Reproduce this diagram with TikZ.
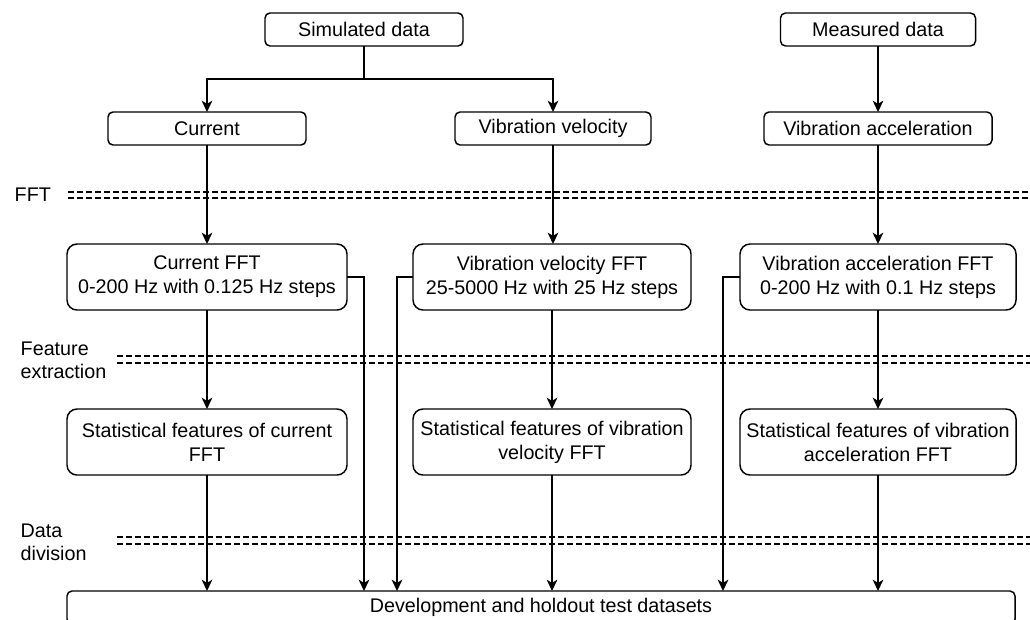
\documentclass[tikz,border=0pt]{standalone}
\usepackage{fontspec}
\setmainfont{Liberation Sans}
\usetikzlibrary{arrows.meta,%
                positioning,%
                calc}
\tikzset{stepbox/.style={
			  rectangle,
			  rounded corners = 3.75pt,
			  minimum height  = 24.75pt,
			  inner sep       = 0pt,
			  outer sep       = 0pt,
			  line width      = 1.1pt,
			  draw            = black,
			  fill            = white,
			  align           = center,
			  font            = \fontsize{14.8}{18}\selectfont
			}}
\tikzset{bigbox/.style={
			  stepbox,
			  rounded corners = 7.5pt,
			  minimum height  = 49.5pt
			}}
\tikzset{lanelabel/.style={
			  anchor          = west,
			  inner sep       = 0pt,
			  align           = left,
			  font            = \fontsize{14.8}{17.3}\selectfont
			}}
\tikzset{separator/.style={
			  line width      = 1pt,
			  dash pattern    = on 4.5pt off 2.25pt
			}}
\begin{document}
\begin{tikzpicture}[x=0.75pt, y=-0.75pt, line width=1.1pt,
  >={Stealth[length=8.5pt,width=8pt,inset=2.4pt]}]
    \useasboundingbox (0,0) rectangle (1030,619);

    % lanes
    \node (lbl_fft)   [lanelabel] at (14,195)  {FFT};
    \node (lbl_feat)  [lanelabel] at (20,360)  {Feature\\extraction};
    \node (lbl_data)  [lanelabel] at (20,542)  {Data\\division};

    \draw [separator] (68,192)  -- (1030,192);
    \draw [separator] (68,198)  -- (1030,198);
    \draw [separator] (117,356) -- (1030,356);
    \draw [separator] (117,363) -- (1030,363);
    \draw [separator] (117,537) -- (1030,537);
    \draw [separator] (117,544) -- (1030,544);

    \node (simulated) [stepbox, minimum width=148.5pt] at (364,29.5)   {Simulated data};
    \node (measured)  [stepbox, minimum width=146.25pt] at (878,29.5)  {Measured data};
    \node (current)   [stepbox, minimum width=148.5pt] at (207,128.5)  {Current};
    \node (velocity)  [stepbox, minimum width=147pt]   at (553,128.5)  {Vibration velocity};
    \node (accel)     [stepbox, minimum width=171pt]   at (878,128.5)  {Vibration acceleration};

    \node (cur_fft)   [bigbox, minimum width=210pt]    at (207,277)    {Current FFT\\0-200 Hz with 0.125 Hz steps};
    \node (vel_fft)   [bigbox, minimum width=208.5pt]  at (552,277)    {Vibration velocity FFT\\25-5000 Hz with 25 Hz steps};
    \node (acc_fft)   [bigbox, minimum width=207pt]    at (878,277)    {Vibration acceleration FFT\\0-200 Hz with 0.1 Hz steps};

    \node (cur_stat)  [bigbox, minimum width=210pt]    at (207,442)    {Statistical features of current\\FFT};
    \node (vel_stat)  [bigbox, minimum width=208.5pt]  at (552,442)    {Statistical features of vibration\\velocity FFT};
    \node (acc_stat)  [bigbox, minimum width=207pt]    at (878,442)    {Statistical features of vibration\\acceleration FFT};

    \node (datasets)  [stepbox, minimum width=711pt]   at (541,607.5)  {Development and holdout test datasets};

    \coordinate (split) at (364,79);
    \draw      (simulated) to (split);
    \draw [->] (split)     -| (current.north);
    \draw [->] (split)     -| (velocity.north);
    \draw [->] (measured)  to (accel);

    \draw [->] (current)   to (cur_fft);
    \draw [->] (velocity)  to (velocity |- vel_fft.north);
    \draw [->] (accel)     to (acc_fft);

    \draw [->] (cur_fft)   to (cur_stat);
    \draw [->] (vel_fft)   to (vel_stat);
    \draw [->] (acc_fft)   to (acc_stat);

    \draw [->] (cur_stat)  to (cur_stat |- datasets.north);
    \draw [->] (vel_stat)  to (vel_stat |- datasets.north);
    \draw [->] (acc_stat)  to (acc_stat |- datasets.north);
%
    \draw [->] (cur_fft.east) -- ++(17,0) coordinate (c1) -- (c1 |- datasets.north);
    \draw [->] (vel_fft.west) -- ++(-16,0) coordinate (c2) -- (c2 |- datasets.north);
    \draw [->] (acc_fft.west) -- ++(-17,0) coordinate (c3) -- (c3 |- datasets.north);

  \end{tikzpicture}
\end{document}
